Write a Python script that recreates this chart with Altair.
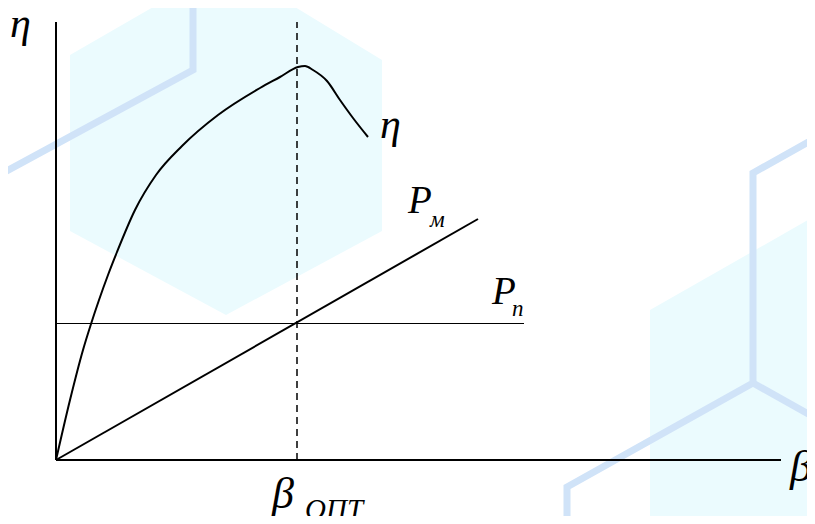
import altair as alt
import pandas as pd

# Schematic units: x = load factor beta (arbitrary units, origin at 0), y = value (arbitrary units)
# efficiency curve eta(beta)
eta_x = [0, 14, 27, 35, 43, 52, 61, 79, 100, 126, 162, 204, 224, 242, 249, 257, 271, 284, 297, 312]
eta_y = [0, 60, 110, 136, 160, 185, 208, 250, 285, 314, 345, 372, 383, 393, 394, 390, 379, 360, 342, 323]

# copper losses P_m (straight line), no-load losses P_n (constant)
pm_x = [0, 422]
pm_y = [0, 241]
pn_level = 136.5
pn_x_end = 468
beta_opt = 241
axis_top = 438
axis_right = 725

# decorative background (watermark hexagons)
hexL_x = [14, 170, 326]
hexL_top = [405, 495, 400]
hexL_bot = [229, 145, 229]
hexR_x = [594, 780]
hexR_top = [150, 256]
hexR_bot = [-80, -80]
lineA_x = [-66, 137, 137]
lineA_y = [280, 390, 470]
lineB_x = [774, 697, 697, 511, 511]
lineB_y = [330, 287, 77, -27, -80]
lineC_x = [697, 774]
lineC_y = [77, 34]

# labels
lab_text = ["η", "η", "P", "м", "P", "п", "β", "β", "ОПТ"]
lab_x = [-46, 324, 352, 374, 436, 456, 734, 216, 249]
lab_y = [423, 322, 247, 233, 156, 144, -21, -48, -59]
lab_size = [42, 42, 39, 23, 39, 23, 44, 44, 29]

XD = [-48, 751]
YD = [-56, 452]
xs = alt.Scale(domain=XD, nice=False, zero=False)
ys = alt.Scale(domain=YD, nice=False, zero=False)

FILL = "#ebfbfe"
BLUE = "#d0e3f8"

hexL = pd.DataFrame({"x": hexL_x, "y": hexL_top, "y2": hexL_bot})
hexR = pd.DataFrame({"x": hexR_x, "y": hexR_top, "y2": hexR_bot})

def area(df):
    return alt.Chart(df).mark_area(color=FILL, clip=True, interpolate="linear").encode(
        x=alt.X("x:Q", scale=xs, axis=None),
        y=alt.Y("y:Q", scale=ys, axis=None),
        y2="y2:Q",
    )

blines = pd.DataFrame({
    "x": lineA_x + lineB_x + lineC_x,
    "y": lineA_y + lineB_y + lineC_y,
    "g": ["A"] * len(lineA_x) + ["B"] * len(lineB_x) + ["C"] * len(lineC_x),
    "o": list(range(len(lineA_x))) + list(range(len(lineB_x))) + list(range(len(lineC_x))),
})
bg_lines = alt.Chart(blines).mark_line(color=BLUE, strokeWidth=7, clip=True, strokeJoin="miter").encode(
    x=alt.X("x:Q", scale=xs, axis=None),
    y=alt.Y("y:Q", scale=ys, axis=None),
    detail="g:N",
    order="o:Q",
)

axes = pd.DataFrame({"x": [0, 0], "x2": [0, axis_right], "y": [0, 0], "y2": [axis_top, 0]})
axes_rule = alt.Chart(axes).mark_rule(color="black", strokeWidth=2).encode(
    x=alt.X("x:Q", scale=xs, axis=None), x2="x2:Q",
    y=alt.Y("y:Q", scale=ys, axis=None), y2="y2:Q",
)

dash = pd.DataFrame({"x": [beta_opt], "y": [0], "y2": [axis_top]})
dash_rule = alt.Chart(dash).mark_rule(color="black", strokeWidth=1.5, strokeDash=[7, 5]).encode(
    x=alt.X("x:Q", scale=xs, axis=None),
    y=alt.Y("y:Q", scale=ys, axis=None), y2="y2:Q",
)

pn = pd.DataFrame({"x": [0], "x2": [pn_x_end], "y": [pn_level]})
pn_rule = alt.Chart(pn).mark_rule(color="black", strokeWidth=1).encode(
    x=alt.X("x:Q", scale=xs, axis=None), x2="x2:Q",
    y=alt.Y("y:Q", scale=ys, axis=None),
)

pm = pd.DataFrame({"x": pm_x, "y": pm_y})
pm_line = alt.Chart(pm).mark_line(color="black", strokeWidth=2).encode(
    x=alt.X("x:Q", scale=xs, axis=None),
    y=alt.Y("y:Q", scale=ys, axis=None),
)

eta = pd.DataFrame({"x": eta_x, "y": eta_y, "o": list(range(len(eta_x)))})
eta_line = alt.Chart(eta).mark_line(color="black", strokeWidth=2, interpolate="monotone").encode(
    x=alt.X("x:Q", scale=xs, axis=None),
    y=alt.Y("y:Q", scale=ys, axis=None),
    order="o:Q",
)

labels = pd.DataFrame({"t": lab_text, "x": lab_x, "y": lab_y, "s": lab_size})
label_layer = alt.Chart(labels).mark_text(
    font="Liberation Serif", fontStyle="italic", color="black", align="left", baseline="alphabetic"
).encode(
    x=alt.X("x:Q", scale=xs, axis=None),
    y=alt.Y("y:Q", scale=ys, axis=None),
    text="t:N",
    size=alt.Size("s:Q", scale=None, legend=None),
)

chart = alt.layer(
    area(hexL), area(hexR), bg_lines, axes_rule, dash_rule, pn_rule, pm_line, eta_line, label_layer
).properties(
    width=799, height=508, autosize=alt.AutoSizeParams(type="none"), padding=0, background="white"
).configure_view(stroke=None)

chart.save("out.html", embed_options={"renderer": "svg", "actions": False})
